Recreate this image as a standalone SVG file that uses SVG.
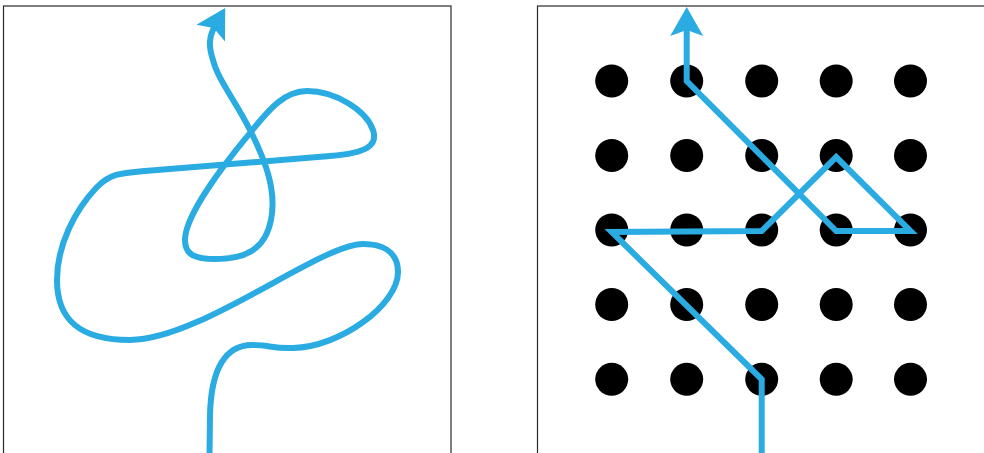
<svg xmlns="http://www.w3.org/2000/svg" width="984" height="453" viewBox="0 0 984 453">
<style>
.frame{fill:#fff;stroke:#2a2a2a;stroke-width:1.2}
.route{fill:none;stroke:#2aabe2;stroke-width:6;marker-end:url(#arrow)}
.dot{fill:#000}
</style>
<defs>
<marker id="arrow" markerUnits="userSpaceOnUse" markerWidth="40" markerHeight="40" viewBox="-15 -20 40 40" refX="0" refY="0" orient="auto">
<path d="M18 0 L-11 -16.5 L-5 0 L-11 16.5 Z" fill="#2aabe2"/>
</marker>
</defs>
<rect width="984" height="453" fill="#fff"/>
<g id="panel-left">
<rect class="frame" x="3.5" y="6" width="447.5" height="460"/>
</g>
<g id="panel-right">
<rect class="frame" x="537.5" y="6" width="460" height="460"/>
</g>
<g id="dots">
<circle class="dot" cx="611.7" cy="81" r="16.5"/><circle class="dot" cx="686.7" cy="81" r="16.5"/><circle class="dot" cx="761.7" cy="81" r="16.5"/><circle class="dot" cx="836.2" cy="81" r="16.5"/><circle class="dot" cx="910.5" cy="81" r="16.5"/>
<circle class="dot" cx="611.7" cy="155.5" r="16.5"/><circle class="dot" cx="686.7" cy="155.5" r="16.5"/><circle class="dot" cx="761.7" cy="155.5" r="16.5"/><circle class="dot" cx="836.2" cy="155.5" r="16.5"/><circle class="dot" cx="910.5" cy="155.5" r="16.5"/>
<circle class="dot" cx="611.7" cy="230" r="16.5"/><circle class="dot" cx="686.7" cy="230" r="16.5"/><circle class="dot" cx="761.7" cy="230" r="16.5"/><circle class="dot" cx="836.2" cy="230" r="16.5"/><circle class="dot" cx="910.5" cy="230" r="16.5"/>
<circle class="dot" cx="611.7" cy="304.5" r="16.5"/><circle class="dot" cx="686.7" cy="304.5" r="16.5"/><circle class="dot" cx="761.7" cy="304.5" r="16.5"/><circle class="dot" cx="836.2" cy="304.5" r="16.5"/><circle class="dot" cx="910.5" cy="304.5" r="16.5"/>
<circle class="dot" cx="611.7" cy="379.3" r="16.5"/><circle class="dot" cx="686.7" cy="379.3" r="16.5"/><circle class="dot" cx="761.7" cy="379.3" r="16.5"/><circle class="dot" cx="836.2" cy="379.3" r="16.5"/><circle class="dot" cx="910.5" cy="379.3" r="16.5"/>
</g>
<g id="connectors">
<path id="free-path" class="route" d="M209.5 456 L210 415 C211 370 225 343 255 345 C268 345 275 349 293 348 C340 347 398 305 398 272 C398 250 380 244 363 244 C320 244 200 340 130 340 C80 340 57 320 57 280 C57 245 75 210 97 187 C112 172 125 173 145 171 L330 156 C368 153 378 145 373 130 C366 110 335 91 307 91 C285 91 270 108 250 133 C225 163 185 215 185 240 C185 255 195 259 215 259 C245 259 265 250 271 220 C277 190 265 160 250 130 C235 100 218 80 213 60 C208 45 209 36 216.2 23.6"/>
<path id="grid-path" class="route" d="M761.7 456 L761.7 379.3 L611.7 232 L761.7 231 L836.2 157 L910.5 231 L836.2 231 L686.7 81 L686.7 25"/>
</g>
</svg>
